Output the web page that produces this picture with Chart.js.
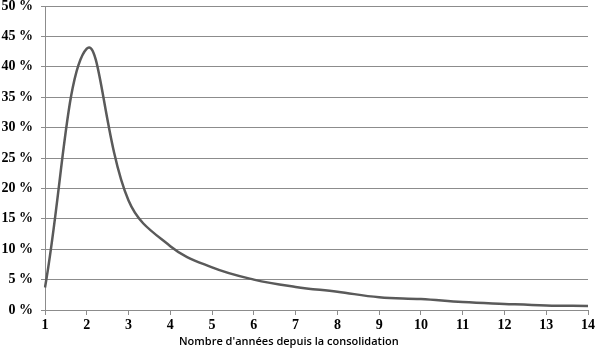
<!DOCTYPE html>
<html>
<head>
<meta charset="utf-8">
<script src="https://cdn.jsdelivr.net/npm/chart.js@4"></script>
<style>
  html, body { margin: 0; padding: 0; background: #fff; }
  #wrap { position: relative; width: 602px; height: 350px; }
  #xtitle {
    position: absolute; left: 179px; width: 200px; top: 333px;
    text-align: center; white-space: nowrap;
    font: 600 11px "Open Sans", "Noto Sans", sans-serif; color: #000;
  }
</style>
</head>
<body>
<div id="wrap"><canvas id="chart"></canvas><div id="xtitle"></div></div>
<script>
// Years since consolidation and the share for each year (%)
const years = ['1', '2', '3', '4', '5', '6', '7', '8', '9', '10', '11', '12', '13', '14'];
const shares = [3.7, 43, 18, 10.5, 7, 5, 3.8, 3, 2.1, 1.8, 1.3, 1.0, 0.75, 0.65];
const axisTitle = "Nombre d'années depuis la consolidation";

document.getElementById('xtitle').textContent = axisTitle;

const gridGrey = '#8c8c8c';
const tickFont = { family: '"Liberation Serif", serif', size: 14, weight: 700 };

new Chart(document.getElementById('chart'), {
  type: 'line',
  data: {
    labels: years,
    datasets: [{
      data: shares,
      borderColor: '#5a5a5a',
      borderWidth: 2.5,
      pointRadius: 0,
      tension: 0.4,
      fill: false
    }]
  },
  options: {
    responsive: true, maintainAspectRatio: false,
    animation: false,
    layout: { padding: { top: 6, right: 14, left: 0, bottom: 0 } },
    plugins: { legend: { display: false }, tooltip: { enabled: false } },
    scales: {
      x: {
        offset: false,
        grid: { drawOnChartArea: false, color: gridGrey, tickLength: 5 },
        border: { color: gridGrey },
        ticks: { color: '#000', font: tickFont, padding: 2, maxRotation: 0 },
        afterFit: s => { s.height = 40; s.paddingLeft = 0; s.paddingRight = 0; }
      },
      y: {
        min: 0, max: 50,
        ticks: { stepSize: 5, color: '#000', font: tickFont, padding: 8, callback: v => v + ' %' },
        grid: { color: gridGrey, tickLength: 4 },
        border: { color: gridGrey },
        afterFit: s => { s.width = 45; s.paddingTop = 0; s.paddingBottom = 0; }
      }
    }
  }
});
</script>
</body>
</html>
